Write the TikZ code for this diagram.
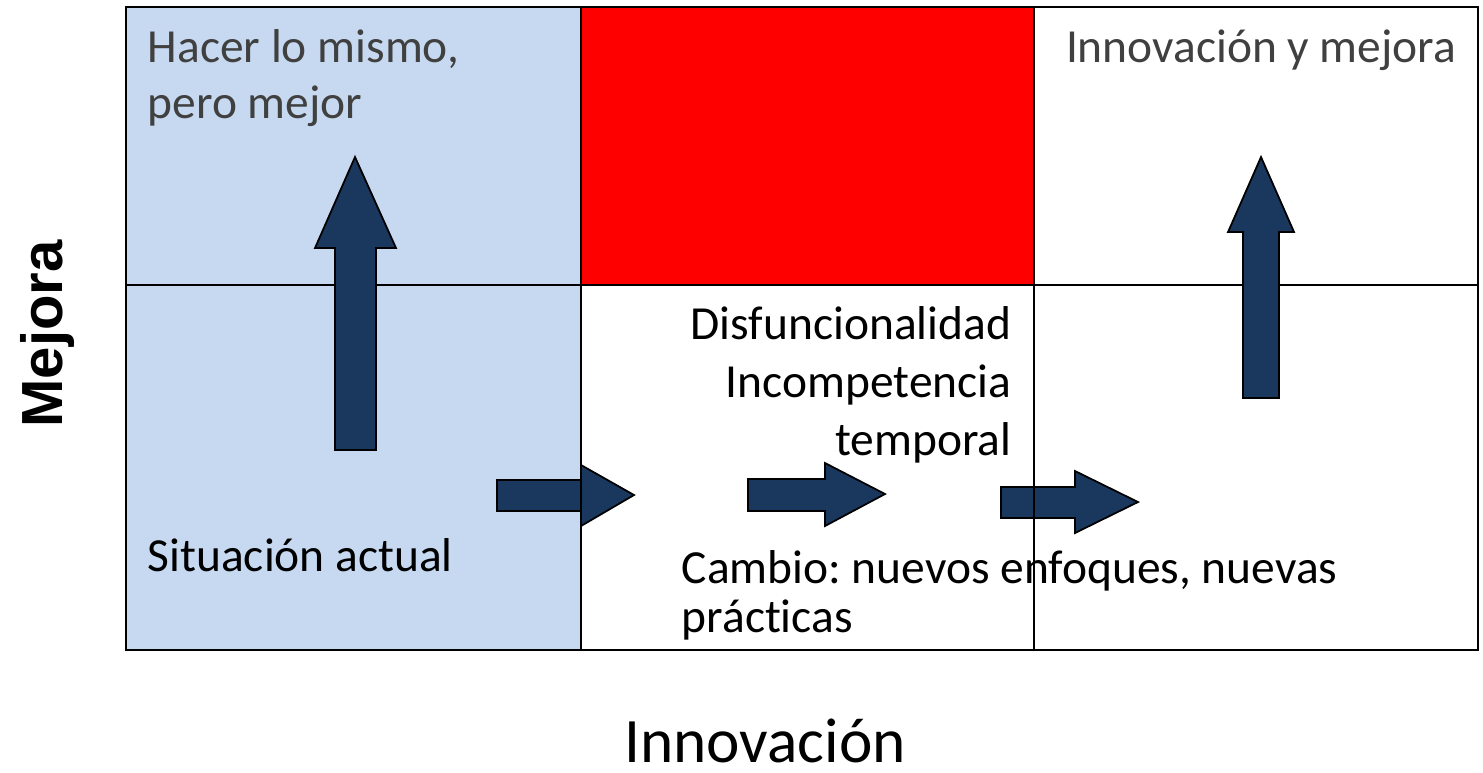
\documentclass[tikz,border=0pt]{standalone}
\usepackage{fontspec}
\setmainfont{Carlito}[Ligatures=NoCommon]
\newfontfamily\axisfont{Liberation Sans}
\definecolor{cellblue}{HTML}{C6D9F1}
\definecolor{navyarrow}{HTML}{1A375E}
\definecolor{textgray}{HTML}{404040}
\frenchspacing
\begin{document}
\begin{tikzpicture}[x=0.01cm, y=-0.01cm,
    grid/.style={line width=0.8pt},
    blockarrow/.style={fill=navyarrow, draw=black, line width=0.5pt},
    celltext/.style={inner sep=0pt, font=\fontsize{13.5}{15.9}\selectfont}]
    \useasboundingbox (0,0) rectangle (1483,772);
    \fill [cellblue] (126,7) rectangle (581,650);
    \fill [red] (581,7) rectangle (1034,285);
    \draw [grid] (126,7) rectangle (1478,650);
    \draw [grid] (126,285) -- (1478,285);
    \draw [grid] (581,7) -- (581,285);
    \draw [grid] (1034,7) -- (1034,285);
    \node (hacer) [celltext, anchor=base west, align=left, text=textgray] at (147,118) {Hacer lo mismo,\\pero mejor};
    \node (innomej) [celltext, anchor=base east, text=textgray] at (1457,62) {Innovación y mejora};
    \node (situacion) [celltext, anchor=base west] at (147,571) {Situación actual};
    \node (disfun) [celltext, anchor=base east, align=right, font=\fontsize{13.5}{16.4}\selectfont] at (1012,455) {Disfuncionalidad\\Incompetencia\\temporal};
    \node (cambio) [celltext, anchor=base west, align=left, font=\fontsize{13.5}{13.9}\selectfont] at (681,632) {Cambio: nuevos enfoques, nuevas\\prácticas};
    \draw [blockarrow] (335,450) -- (335,248) -- (315,248) -- (355,157) -- (396,248) -- (376,248) -- (376,450) -- cycle;
    \draw [blockarrow] (1243,398) -- (1243,232) -- (1228,232) -- (1261,157) -- (1294,232) -- (1279,232) -- (1279,398) -- cycle;
    \draw [blockarrow] (497,480) -- (581,480) -- (581,465) -- (634,495) -- (581,526) -- (581,511) -- (497,511) -- cycle;
    \draw [blockarrow] (748,479) -- (825,479) -- (825,463) -- (885,494) -- (825,526) -- (825,511) -- (748,511) -- cycle;
    \draw [blockarrow] (1001,487) -- (1075,487) -- (1075,471) -- (1138,502) -- (1075,533) -- (1075,518) -- (1001,518) -- cycle;
    \draw [grid] (581,285) -- (581,650);
    \draw [grid] (1034,285) -- (1034,650);
    \node (ejey) [inner sep=0pt, anchor=base, rotate=90, font=\axisfont\bfseries\fontsize{16.5}{20}\selectfont] at (62,334) {Mejora};
    \node (ejex) [inner sep=0pt, anchor=base, font=\fontsize{18}{22}\selectfont] at (765,762) {Innovación};
\end{tikzpicture}
\end{document}
